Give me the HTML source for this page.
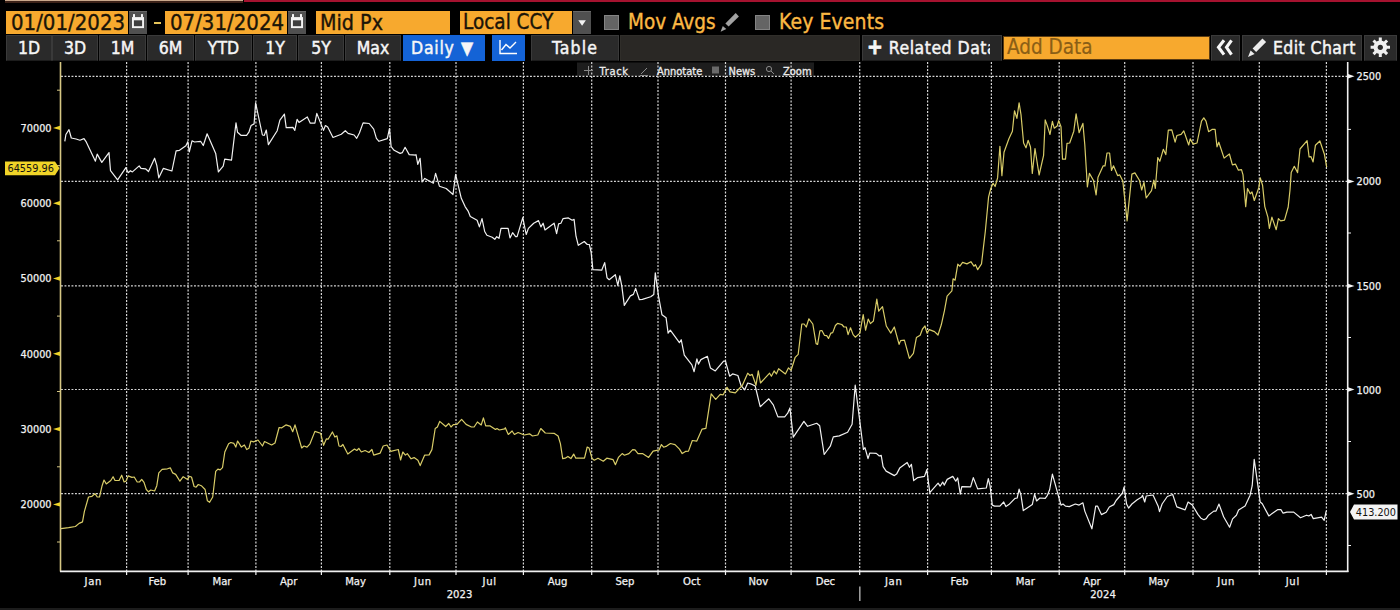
<!DOCTYPE html>
<html lang="en">
<head>
<meta charset="utf-8">
<title>Chart</title>
<style>
*{box-sizing:border-box;margin:0;padding:0}
html,body{width:1400px;height:610px;background:#000;overflow:hidden}
body{position:relative;font-family:"DejaVu Sans Condensed","Liberation Sans",sans-serif;color:#fff}
#chart{position:absolute;left:0;top:0}
.abs{position:absolute}
.topstrip{position:absolute;top:0;height:2px}
.ob{position:absolute;top:10.5px;height:23px;background:#f7a92e;color:#1a1408;font-size:22px;line-height:23px;padding-left:5px;white-space:nowrap;overflow:hidden;-webkit-text-stroke:0.35px #1a1408}
.cal{position:absolute;top:10.5px;height:23px;width:18px;background:#505050;border-top:1px solid #686868}
.otxt{position:absolute;top:11px;height:22px;color:#fbb843;font-size:20.5px;line-height:22px;white-space:nowrap;-webkit-text-stroke:0.35px #fbb843}
.chk{position:absolute;top:14.6px;width:15px;height:15px;background:#646464;border:1px solid #848484}
.btn{position:absolute;top:35px;height:26px;background:#2a2a2a;border:1px solid #3a3a3a;border-bottom-color:#1c1c1c;color:#f6f6f6;font-size:17.5px;line-height:25px;-webkit-text-stroke:0.45px #f6f6f6;text-align:center;white-space:nowrap;overflow:hidden}
.blue{background:#1463d6;border-color:#1463d6}
.botstrip{position:absolute;left:0;top:607.6px;width:1400px;height:3px;background:#1c1c1c}
</style>
</head>
<body>
<div class="topstrip" style="left:5px;width:238px;height:1.3px;background:#c9a98c"></div><div class="topstrip" style="left:5px;top:1.3px;width:238px;height:1.5px;background:#3c2218"></div>
<div class="topstrip" style="left:244px;width:1156px;height:2.4px;background:#a5122f"></div>

<div class="ob" style="left:6px;width:122px">01/01/2023</div>
<div class="cal" style="left:129px"><svg width="18" height="23" viewBox="0 0 18 23"><rect x="3" y="5.1" width="12" height="11" fill="#f4f4f4"/><rect x="4.9" y="8.3" width="8.2" height="5.9" fill="#3e3e3e"/><rect x="4" y="2.1" width="2" height="3.6" fill="#f4f4f4"/><rect x="12" y="2.1" width="2" height="3.6" fill="#f4f4f4"/></svg></div>
<div class="abs" style="left:154px;top:21.5px;width:7px;height:2.2px;background:#e6c45a"></div>
<div class="ob" style="left:165px;width:122px">07/31/2024</div>
<div class="cal" style="left:288px"><svg width="18" height="23" viewBox="0 0 18 23"><rect x="3" y="5.1" width="12" height="11" fill="#f4f4f4"/><rect x="4.9" y="8.3" width="8.2" height="5.9" fill="#3e3e3e"/><rect x="4" y="2.1" width="2" height="3.6" fill="#f4f4f4"/><rect x="12" y="2.1" width="2" height="3.6" fill="#f4f4f4"/></svg></div>
<div class="ob" style="left:316px;width:134px;font-size:21.3px;padding-left:4px">Mid Px</div>
<div class="ob" style="left:460px;width:112px;font-size:20.5px;padding-left:3px">Local CCY</div>
<div class="cal" style="left:573px"><svg width="18" height="22" viewBox="0 0 18 22"><path d="M5.3,8.3H12.9L9.1,13.8Z" fill="#f4f4f4"/></svg></div>
<div class="chk" style="left:604px"></div>
<div class="otxt" style="left:628px">Mov Avgs</div>
<svg class="abs" style="left:718px;top:11px" width="24" height="22" viewBox="0 0 24 22"><path d="M17.7,2L20.9,5.6L10.6,15.5L7.4,12.6Z" fill="#a2a2a2"/><path d="M4.8,14.9L8.3,18.1L2.6,20.7Z" fill="#a2a2a2"/></svg>
<div class="chk" style="left:754.6px"></div>
<div class="otxt" style="left:779px;font-size:21px;letter-spacing:0.1px">Key Events</div>

<div class="btn" style="left:6px;width:46px">1D</div>
<div class="btn" style="left:52px;width:46px">3D</div>
<div class="btn" style="left:99px;width:47px">1M</div>
<div class="btn" style="left:147px;width:47px">6M</div>
<div class="btn" style="left:195px;width:57px">YTD</div>
<div class="btn" style="left:253px;width:44px">1Y</div>
<div class="btn" style="left:298px;width:46px">5Y</div>
<div class="btn" style="left:345px;width:56px">Max</div>
<div class="btn blue" style="left:403px;width:82px;text-align:left;padding-left:7px"><span style="letter-spacing:0.75px">Daily</span><span style="position:absolute;left:57px;top:0">▼</span></div>
<div class="btn blue" style="left:492px;width:33px"><svg width="31" height="22" viewBox="0 0 31 22"><path d="M7,4V17.5H24" fill="none" stroke="#fff" stroke-width="1.4"/><path d="M8.5,14L13,8.5L17,12L23,6" fill="none" stroke="#fff" stroke-width="1.4"/></svg></div>
<div class="btn" style="left:531px;width:88px;letter-spacing:1.1px">Table</div>
<div class="btn" style="left:620px;width:240px;background:#2a2825;border-color:#302e2a"></div>
<div class="btn" style="left:862px;width:128px;text-align:left;padding-left:4px;letter-spacing:0.5px;border-right:none"><b style="font-size:21px;line-height:20px;-webkit-text-stroke:0.8px #f6f6f6">+</b>&nbsp;Related Data</div>
<div class="btn" style="left:990px;width:12px;border-left:none;background:#262626"></div>
<div class="ob" style="left:1004px;top:37px;width:205px;height:21.7px;line-height:21.5px;outline:1px solid #5a3c12;padding-left:2px;-webkit-text-stroke:0.2px #8a5e16;font-size:20.5px;color:#8a5e16;padding-left:3px">Add Data</div>
<div class="btn" style="left:1211px;width:29px"><svg class="abs" style="left:0;top:0" width="27" height="24" viewBox="0 0 27 24"><path d="M12,4.3L6.5,11.3L12,18.6M19.5,4.3L14.5,11.3L19.5,18.6" fill="none" stroke="#f8f8f8" stroke-width="3.1"/></svg><span style="opacity:0">«</span></div>
<div class="btn" style="left:1242px;width:120px;text-align:left;padding-left:30px;letter-spacing:0.4px">Edit Chart<svg class="abs" style="left:1px;top:2px" width="24" height="20" viewBox="0 0 24 20"><path d="M18.4,0.6L22.1,4L12.1,14.1L8.6,10.6Z" fill="#ececec"/><path d="M6.6,12.4L10.6,16.1L4,19Z" fill="#ececec"/></svg></div>
<div class="btn" style="left:1364px;width:33px"><svg style="margin-top:0px" width="31" height="24" viewBox="0 0 31 24"><g transform="translate(15.3,11.3)"><circle r="5.2" fill="none" stroke="#f0f0f0" stroke-width="3.2"/><g stroke="#f0f0f0" stroke-width="3"><path d="M0,-9.7V9.7M-9.7,0H9.7M-6.8,-6.8L6.8,6.8M-6.8,6.8L6.8,-6.8"/></g><circle r="2.6" fill="#2a2a2a"/></g></svg></div>

<svg id="chart" width="1400" height="610" viewBox="0 0 1400 610">
<rect x="577" y="62.5" width="237" height="13.5" fill="#1d1d1d"/>
<path d="M126.6,62V571M188.1,62V571M255.9,62V571M321.4,62V571M389.8,62V571M456,62V571M523.4,62V571M591.7,62V571M658,62V571M725.5,62V571M791.1,62V571M859.7,62V571M927.6,62V571M991.4,62V571M1059.2,62V571M1124.7,62V571M1193,62V571M1259.3,62V571M1326.4,62V571M61,76.3H1347M61,181.4H1347M61,285.9H1347M61,389.5H1347M61,493.7H1347" stroke="#d6d6d6" stroke-width="1.2" stroke-dasharray="1.9 1.6" fill="none"/>
<g font-family="'DejaVu Sans Condensed','Liberation Sans',sans-serif" font-size="11" fill="#ececec" stroke="#ececec" stroke-width="0.3"><text x="599.5" y="74.6" letter-spacing="0.7">Track</text><text x="657" y="74.6">Annotate</text><text x="728.5" y="74.6">News</text><text x="783" y="74.6">Zoom</text></g>
<g stroke="#8a8a8a" stroke-width="1" fill="none"><path d="M584,70.5H593M588.5,66V75"/><path d="M641,74L647,68M640,75.5H648"/><circle cx="769" cy="69" r="2.6"/><path d="M771,71L774,74"/></g>
<rect x="712" y="66.5" width="7" height="7" fill="#6a6a6a"/>
<polyline points="64.8,141.3 65.9,134.5 69,129.7 71.3,138 76.1,139 79.9,140.2 84,138.6 85.9,141.3 95.4,161.2 97.2,154.1 101.8,162.4 109,152.6 110.5,170.7 117.6,179.8 125.9,167.7 128.2,172.7 130.4,170.7 132.4,171.9 139.2,165.9 141,168.4 145.5,168.8 148.5,171.5 154.6,158.2 156.8,165.4 158.8,177.8 163.3,168.4 171.9,171 176.1,150.8 179.5,150.3 185.9,145.8 187.8,141.7 189.3,151.9 192,140.8 194.5,142 200.6,141.3 203.3,145.5 207.1,133.8 215.7,153.4 218.4,171.9 223.2,166.2 224.7,159.1 231.5,160.2 236,122.9 237.5,132.2 240.9,135.3 246.6,135.3 248.9,132.2 251.1,125.5 254.1,123.9 255.6,102.8 262.4,135 264.3,135.3 266.3,130 268.4,144.6 277.2,130.7 279.9,120.2 284.4,114.1 286.2,127.7 293,127.4 294.8,130.4 297.1,119.4 299,122.4 307.3,116.9 310.3,123.2 314.9,123.2 316.8,113.4 323.5,130.4 325.4,125.5 327.7,127 333,137.5 341.3,134.2 345.3,130.7 348.1,133.4 354.1,135 356.7,138.3 359.4,133 363.1,122.9 369.2,123.5 373.7,129.2 376.4,138.3 379,141.3 387.3,138.6 389.5,128.5 391.1,146.6 394.1,150.3 400.1,153.4 402.4,152.6 405.1,147.3 409.2,154.6 415.9,155.2 416,154.5 417.8,164.3 420.1,158.3 422.1,182 424.8,178.4 433.4,183.2 435.6,173.4 439.4,186.2 446.2,188.5 453,194.5 455.6,174.4 461.3,198.3 465.1,206.6 468.1,211.1 470.3,216.4 477.1,220.2 479.4,226.9 482,218.6 484.7,231.5 486.9,235.2 492.2,237.2 494.8,239.3 496.7,236.7 499,238.3 501,228.4 508.1,228.4 510,238 512.6,232.7 515.6,236.7 517.1,236.7 522.8,217.6 526.2,234.5 528.4,228.4 533.7,223.2 538.5,220.6 540.9,226.9 543.1,223.2 545,230 554.1,223.2 556.6,233.7 558.6,223.9 560.9,223.2 563.1,218.6 568.4,217.9 572.2,220.2 574.1,219.4 576,236.2 578.3,245.3 584.3,241.5 587.3,244.5 589.3,244.5 591.1,252 592.9,269.7 601.7,270.2 604.7,262.6 607,277.7 609.2,279.7 615.3,274.7 617.8,285.4 619.8,275.9 621.8,286.1 624.3,305.4 630.4,295.9 633.4,294.4 635.6,288.4 639.4,299.7 642.4,299.4 650.7,296.7 653.8,294.4 655.3,272.8 658.6,296.7 662,314.8 666.1,317.8 668.1,333.2 670.3,330.2 679.4,342.7 681.2,339.7 684.3,355.1 691.9,364.9 694.1,371.7 696.9,358.9 698.4,364.1 700.9,359.6 707.4,356.3 710.4,367.9 715.3,370.9 723.6,361.1 725.5,361.1 729.6,376.2 732.6,373.9 737.9,375.5 740.9,385.3 744.7,389.8 747.7,383 750.7,383.8 755.2,386 760.2,406.7 768.8,398.8 773.3,404.9 777.9,416.9 784.7,416.9 787.7,413.2 789.9,407.9 793.3,437.2 803.9,421.3 807.6,426.3 816.7,423.3 819.7,425.8 824.2,454.5 830.3,446.2 833.3,436.9 839.3,435.9 847.6,432.3 852.1,424.3 855.2,385.2 863.4,449.5 865,447.7 868,458.6 869.8,453 876.3,453.4 879.3,456 881.2,455.3 883.1,466.6 886.1,471.1 894.4,475.6 896.6,474.1 899.7,468.1 907.2,462.5 909.5,467.3 911.4,464.3 913.7,480.6 917.8,477.6 924.5,476.4 926.8,469.6 929.8,492.7 938.1,483.2 940.1,486.2 942.7,482.1 944.2,485.1 947.2,479.4 952.8,476.4 955.8,481.2 957.7,477.9 960.3,494.2 961.8,486.6 970.6,486.9 973.3,477.6 977.7,488.9 986.3,488 988.3,478.7 990.1,486.2 992.3,505.1 994.6,506.1 999.9,506.1 1003.7,502 1005.9,506.6 1008.9,504.6 1015,498.3 1017.2,498 1019.1,489.2 1021,495.3 1023.3,510.6 1032.3,504.6 1034.6,494.1 1036.6,501 1039.9,498 1045.2,498.3 1047.4,495.3 1049.7,489.5 1052.4,474.1 1061,505.1 1063,504 1065.5,506.1 1069.3,506.6 1075.3,504 1079.1,505.1 1082.9,502.8 1084.8,511.1 1091.9,528.8 1095.7,506.1 1097.5,506.1 1101.4,514.6 1106.2,512.2 1109.3,507 1113.8,504.6 1116.1,500.5 1122.5,493 1124.1,487 1126.6,504 1128.6,508.1 1131.9,504 1137.2,499.8 1141.7,497.1 1142.5,495.3 1144.7,502 1146.2,496 1153,495 1158.3,506.6 1159.5,511.6 1162.1,504 1167.3,496.5 1170,495.5 1172.7,494.5 1176.8,506.9 1185.1,509.9 1188.1,502 1192.3,505 1197.9,514.4 1200.9,518.2 1203.9,519.7 1206.2,518.6 1208.5,515.2 1213.8,511.1 1216,511.1 1219,504.1 1223.6,516.7 1229.6,527.2 1232.6,518.9 1236.4,515.2 1238.6,509.9 1245.1,506.1 1250,495.5 1252.2,485.7 1254.2,459.3 1260.2,502 1262.3,503.8 1268.8,515.9 1277.9,509.6 1280.9,509.6 1283.1,513.2 1286.9,512.1 1293.7,512.1 1300.5,517.7 1306.5,515.2 1308.8,515.9 1311.1,514.4 1313.3,518.6 1321.6,517.1 1324.2,520.4 1326.1,511.4" fill="none" stroke="#f0f0f0" stroke-width="1.2" stroke-linejoin="round"/>
<polyline points="61,528.7 68.6,527.7 75.4,526.5 79.1,523.4 82.5,521.9 84.4,511.4 88.5,497 92,496.3 95,493.6 97.2,497 99.5,497 102.1,485.7 104,480 106.3,483.9 110.8,480.5 113.1,476.7 115,480.5 119.1,480.5 121.7,475.2 124.1,482 125.9,481.2 128.2,475.9 131.9,477.4 134.2,477 137.2,482 139.5,482 141.7,479.4 144,482.4 146.3,489.5 148.5,491.8 150.8,490 154.6,491 156.8,485.7 158.8,472.9 162.1,469.4 167.4,468.8 170.4,467.9 172.7,472.9 175.7,474.4 179.9,481.2 183.2,476.7 187.5,479.4 189.3,476.4 191.5,477 194.1,486.5 196.1,487.2 198.3,484.5 201.3,485.7 205.1,489.5 207.4,500.8 209.6,502.3 212.7,497 215.7,471.4 217.9,469.1 220.2,469.9 222.5,467.6 224.8,452 228.6,443.8 230.8,442.5 233.9,443.4 235.8,447.1 237.6,441 241.4,447.1 244.4,445 246.7,449.5 248.9,448.3 250.9,441 253.5,441.9 258,440 262.5,446 264.5,441.5 271.6,445 275,443 279.1,427.5 281.4,427.9 285.9,424.9 290.4,426.4 292.7,431.7 295,424.9 301.7,448 304,446 307,447.1 310,443.8 314.9,431.4 320.6,433.2 323.6,445.3 326.3,438.9 328.1,439.2 332.4,432 334.9,437 336.9,435.9 339,446 341,446.5 342.9,444.5 347.8,454 354.5,449 356.8,450.5 358.8,448.3 361.3,452 365.1,450.5 368.9,452.5 371.9,449.5 373.7,455.1 380.2,453.1 383.2,446 387,445 390.8,451.3 398.3,449.5 400.6,460 402.8,452 405.4,455.1 407.3,453.6 411.1,458.8 414.1,457.6 417.9,460.3 420.2,465.6 424.6,455.2 429.1,454.9 431.9,449.6 435.2,428.5 437.4,427 439.7,421.4 445.7,426.5 448.8,423.5 451,427 453.3,424.7 457,424.4 461.6,419.4 466.1,424.4 471.4,427 474.1,427 477.4,422 481.2,425 483.4,417.9 485.7,425.9 490.2,425.9 495.5,429.5 497,428.5 499.3,430 504.6,428.9 505.3,427.7 508.3,434.5 512.1,431 514.4,434.5 518.1,432.5 524.2,435 529.5,433.8 532.5,436 537.8,435 540.8,428.5 545.3,433 554.4,433.4 558.1,436 560.4,443.6 562.7,458.6 565.2,458.2 567.9,456.4 570.9,458.6 573.7,454.1 575.8,458.2 584.5,458.2 587.2,447 589.1,448.1 592.1,458.6 594.3,460.2 598,458.2 603.3,461.2 606.8,458.2 613.1,459.7 615.4,464.7 618.4,457.4 622.2,453.6 624.4,455.2 628.9,453.6 632.7,449.6 635,449.9 638,453.6 642.5,453.6 648.6,457.4 653.1,451.1 659.1,449.9 661.4,444.6 663.6,447.2 666.7,446.1 670.4,443.5 675,444.6 679.5,449.1 682.2,453.6 685.5,451.4 688.5,451.1 692.3,440.5 696.8,441.1 702.1,429.1 705.9,428.4 711.2,393.8 715.7,399.3 720.2,394.4 723.2,394.8 727,387.3 730,391.8 735.3,392.8 739.8,388 742.4,385.3 747.7,373.2 750,375.5 752.2,374.4 756,385.3 758.3,370.9 760.5,383 769.6,373.2 771.4,376.2 774.1,370.9 776.4,373.9 778.6,368.7 785.4,373.9 788.4,367.9 791.1,370.2 795.2,357.3 798.2,354.3 801.8,324 804.1,324 806.3,327 808.9,318.8 812.8,324 816.1,343.6 817.6,344.4 819.9,330.8 821.9,330.5 824.4,335.3 826.7,335.6 828.5,338.4 830.9,333.1 832.7,332.6 835.4,325.5 837.5,323.3 841.8,324.5 844,327 846.3,327 848.1,334.6 850.5,327.8 853.1,334.6 855.3,337.2 859.9,333.1 863.2,314.5 865.6,330.1 868.2,319.1 870.4,323.6 873.4,321 876.8,299.1 878.7,311.2 882.5,306.7 886.3,326 890.8,333.1 894.3,327 899.1,344.4 900.6,340.6 904.4,340.2 909.4,358.3 913.4,353.4 916.4,337.6 920.2,335.3 922.5,329 925,326 927,333.1 929.3,329.6 934.5,331.6 938,335 941.3,324.8 944.4,310.9 947.1,296.1 951.9,290.8 953.1,278.8 955.1,280.2 957.8,264.2 959.9,266.2 962.6,262.4 966.9,263.9 970.9,261.7 973.9,266.2 975.5,264.7 977.7,269.7 981.5,263.9 985.3,231.5 988.6,196.8 990.8,188.5 993.1,183.2 995.1,186.5 997.6,177.9 999.9,146.3 1001.9,175.7 1004,152.3 1008.9,138.8 1012.4,131.2 1014.5,110.8 1016.9,118.4 1019.1,102.8 1021,114.6 1023.6,143 1026,147.8 1028.1,140.3 1030.5,147 1032.3,173.4 1035,148.6 1039.1,175 1043.6,155.3 1045.2,119.9 1047.4,125.9 1050,134.5 1052.4,121.4 1054.2,128.2 1057.2,125.9 1058.7,120.6 1061,126.7 1062.5,159.1 1065.5,159.1 1067,143.3 1069.7,143 1073.8,131.2 1076.1,113.9 1079.1,132.7 1082.9,123.4 1084.8,144.8 1087.4,187 1089.4,173.4 1093.4,180.2 1096.1,195 1098,177.2 1103.2,165.8 1105,165.8 1107,153 1109.6,153 1111.5,170.4 1113.5,165.8 1117.6,175.6 1119.8,174.9 1122.8,180.9 1127.1,220.9 1131.9,174.1 1134.9,172.9 1139.4,180.2 1141.7,190 1144,182.4 1146.2,198 1151.5,190.7 1153.8,180.2 1155.3,188.5 1157.8,157.5 1159.8,161.3 1163.3,149.3 1165.8,154.6 1168.3,130.2 1171.8,129.9 1175.1,142.2 1176.9,135.5 1181.1,134.4 1183.8,130.9 1188.7,145 1190.2,138.9 1193.2,144.1 1197,143 1201.5,121.1 1203.8,117.8 1206,121.1 1208.6,131.7 1212,129.4 1215.1,129.4 1217,146.8 1218.8,142.2 1224.1,158.1 1229.4,154 1232.4,164.9 1235.4,164.1 1238.4,170.2 1241.5,169.7 1243,174.9 1244.2,189.2 1245.7,206.6 1247.5,188.5 1250.2,193.8 1252,191.9 1254.3,200.5 1258.8,187.7 1260.3,177.9 1262.6,185.5 1264.8,206.6 1267.9,217.1 1269.4,228.4 1271.9,217.1 1276.2,229.7 1278.4,218.6 1280.7,220.9 1284.5,220.2 1288.2,207 1290,190 1291.2,172.6 1294.3,166.3 1297.6,172.6 1300,149 1307.1,140.7 1309.1,157 1310.9,156.6 1313.1,161.9 1315.4,145.3 1319.9,141 1324.4,154.3 1326.7,167.1" fill="none" stroke="#d8cc68" stroke-width="1.2" stroke-linejoin="round"/>
<path d="M60.5,62V571.5" stroke="#d6c784" stroke-width="1.6" fill="none"/>
<path d="M60,571.4H1348.5" stroke="#f0f0f0" stroke-width="1.6" fill="none"/>
<path d="M1347.7,62V572" stroke="#f0f0f0" stroke-width="1.6" fill="none"/>
<g font-family="'DejaVu Sans Condensed','Liberation Sans',sans-serif" font-size="10.8" fill="#f2f2f2" stroke="#f2f2f2" stroke-width="0.25" text-anchor="end">
<text x="51.5" y="131.8">70000</text>
<text x="51.5" y="207.1">60000</text>
<text x="51.5" y="282.4">50000</text>
<text x="51.5" y="357.7">40000</text>
<text x="51.5" y="433.0">30000</text>
<text x="51.5" y="508.3">20000</text>
</g>
<path d="M53,127.9L60,125.7V130.1ZM53,203.2L60,201.0V205.4ZM53,278.5L60,276.3V280.7ZM53,353.8L60,351.6V356.0ZM53,429.1L60,426.9V431.3ZM53,504.4L60,502.2V506.6Z" fill="#f0d428"/>
<path d="M57,90.2H60M57,165.6H60M57,240.8H60M57,316.1H60M57,391.5H60M57,466.8H60M57,542.0H60" stroke="#d6c784" stroke-width="1" fill="none"/>
<g font-family="'DejaVu Sans Condensed','Liberation Sans',sans-serif" font-size="10.8" fill="#f2f2f2" stroke="#f2f2f2" stroke-width="0.25">
<text x="1356.5" y="80.3">2500</text>
<text x="1356.5" y="185.4">2000</text>
<text x="1356.5" y="289.9">1500</text>
<text x="1356.5" y="393.5">1000</text>
<text x="1356.5" y="497.7">500</text>
</g>
<path d="M1348,74.1L1354.5,76.3L1348,78.5ZM1348,179.20000000000002L1354.5,181.4L1348,183.6ZM1348,283.7L1354.5,285.9L1348,288.09999999999997ZM1348,387.3L1354.5,389.5L1348,391.7ZM1348,491.5L1354.5,493.7L1348,495.9Z" fill="#f4f4f4"/>
<path d="M1348,129.4H1351M1348,233H1351M1348,337.5H1351M1348,441.5H1351M1348,545.5H1351" stroke="#f0f0f0" stroke-width="1" fill="none"/>
<path d="M126.6,571V575M188.1,571V575M255.9,571V575M321.4,571V575M389.8,571V575M456,571V575M523.4,571V575M591.7,571V575M658,571V575M725.5,571V575M791.1,571V575M859.7,571V575M927.6,571V575M991.4,571V575M1059.2,571V575M1124.7,571V575M1193,571V575M1259.3,571V575M1326.4,571V575" stroke="#f0f0f0" stroke-width="1.2" fill="none"/>
<path d="M859.8,586.5V601" stroke="#9a9a9a" stroke-width="1.6" fill="none"/>
<g font-family="'DejaVu Sans Condensed','Liberation Sans',sans-serif" font-size="11.2" fill="#f2f2f2" stroke="#f2f2f2" stroke-width="0.25" text-anchor="middle">
<text x="93.3" y="584.6" letter-spacing="0.7">Jan</text>
<text x="157.3" y="584.6">Feb</text>
<text x="222.0" y="584.6">Mar</text>
<text x="288.6" y="584.6">Apr</text>
<text x="355.6" y="584.6">May</text>
<text x="422.9" y="584.6" letter-spacing="0.7">Jun</text>
<text x="489.7" y="584.6" letter-spacing="0.7">Jul</text>
<text x="557.5" y="584.6">Aug</text>
<text x="624.9" y="584.6">Sep</text>
<text x="691.8" y="584.6">Oct</text>
<text x="758.3" y="584.6">Nov</text>
<text x="825.4" y="584.6">Dec</text>
<text x="893.7" y="584.6" letter-spacing="0.7">Jan</text>
<text x="959.5" y="584.6">Feb</text>
<text x="1025.3" y="584.6">Mar</text>
<text x="1092.0" y="584.6">Apr</text>
<text x="1158.8" y="584.6">May</text>
<text x="1226.2" y="584.6" letter-spacing="0.7">Jun</text>
<text x="1292.8" y="584.6" letter-spacing="0.7">Jul</text>
<text x="459.5" y="598">2023</text><text x="1103" y="598">2024</text>
</g>
<path d="M5,161.5H55L59.5,168.3L55,175.2H5Z" fill="#f0d428"/>
<text x="7.5" y="172.3" font-family="'DejaVu Sans Condensed','Liberation Sans',sans-serif" font-size="10.8" fill="#111">64559.96</text>
<path d="M1350,512L1354,504.5H1397.5V519.5H1354Z" fill="#f4f4f4"/>
<text x="1355.8" y="516" font-family="'DejaVu Sans Condensed','Liberation Sans',sans-serif" font-size="10.8" fill="#111">413.200</text>
</svg>
<div class="botstrip"></div>
</body>
</html>
